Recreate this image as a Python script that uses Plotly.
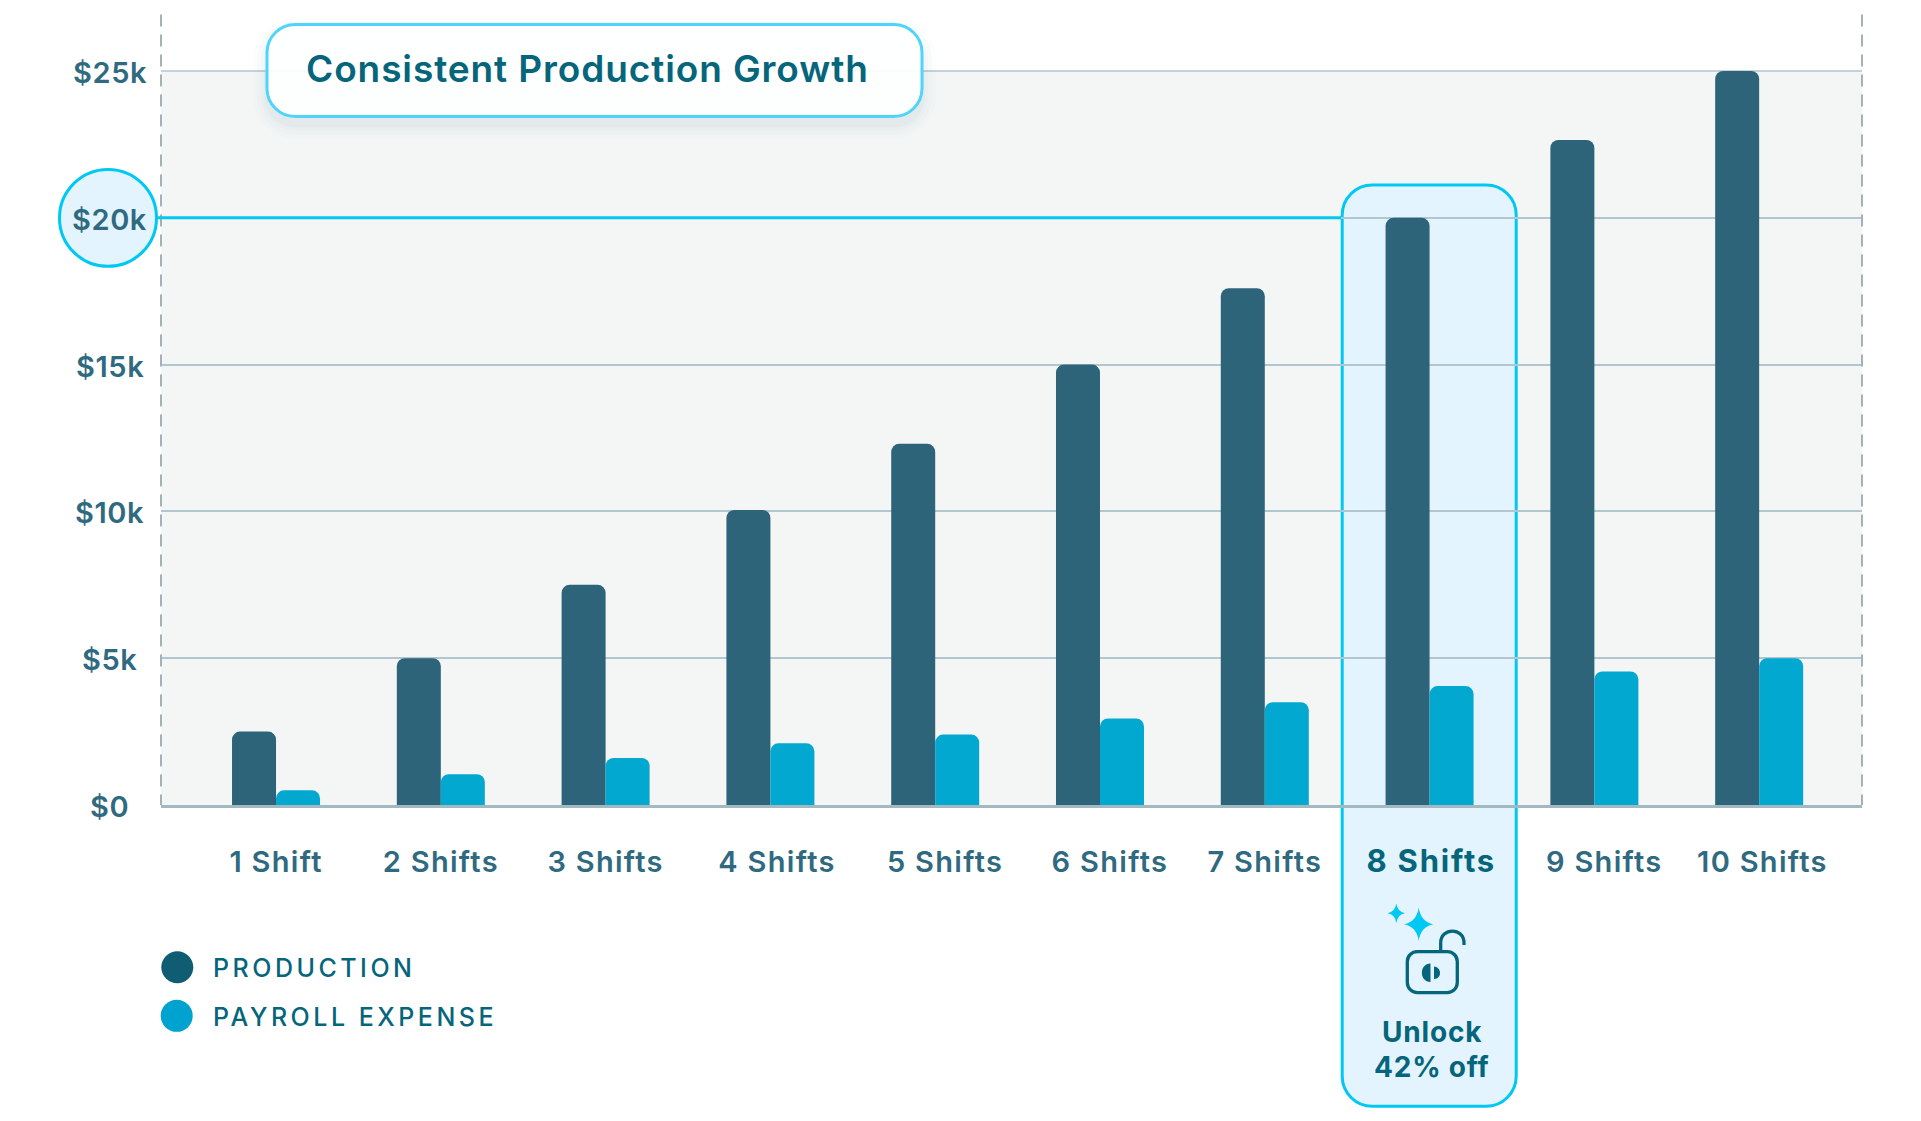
import plotly.graph_objects as go

# ---- data ----
x_labels = ["1 Shift", "2 Shifts", "3 Shifts", "4 Shifts", "5 Shifts",
            "6 Shifts", "7 Shifts", "8 Shifts", "9 Shifts", "10 Shifts"]
production = [2500, 5000, 7500, 10050, 12300, 15000, 17600, 20000, 22650, 25000]
payroll = [500, 1050, 1600, 2100, 2400, 2950, 3500, 4050, 4550, 5000]
y_ticks = [0, 5000, 10000, 15000, 20000, 25000]
y_labels = ["$0", "$5k", "$10k", "$15k", "$20k", "$25k"]
label_pos = [0, 1, 2, 3.04, 4.06, 5.06, 6, 7.01, 8.06, 9.02]
series_names = ["PRODUCTION", "PAYROLL EXPENSE"]
title_text = "Consistent Production Growth"
unlock_lines = ["Unlock", "42% off"]

# ---- style ----
W, H = 1921, 1121
L, R, T, B = 161, 1862, 70.5, 805
FONT = "Inter"
BAR_DARK = "#2e6479"
BAR_LIGHT = "#02a8d0"
LEG_DARK = "#0f5c73"
LEG_LIGHT = "#00a3cf"
TEAL = "#05657b"
TICK = "#2f6a80"
CYAN = "#00c8f5"
SOFT = "#e3f4fe"
GRID = "#b2c6cf"


def spaced(t, ls, extra=""):
    return f'<span style="letter-spacing:{ls}px;{extra}">{t}</span>'


def px(x):
    return (x - L) / (R - L)


def py(y):
    return (B - y) / (B - T)


def P(x, y):
    return f"{px(x):.5f},{py(y):.5f}"


def rrect(x0, y0, x1, y1, r):
    k = r * 0.45
    return ("M" + P(x0 + r, y0) + " L" + P(x1 - r, y0)
            + " C" + P(x1 - k, y0) + " " + P(x1, y0 + k) + " " + P(x1, y0 + r)
            + " L" + P(x1, y1 - r)
            + " C" + P(x1, y1 - k) + " " + P(x1 - k, y1) + " " + P(x1 - r, y1)
            + " L" + P(x0 + r, y1)
            + " C" + P(x0 + k, y1) + " " + P(x0, y1 - k) + " " + P(x0, y1 - r)
            + " L" + P(x0, y0 + r)
            + " C" + P(x0, y0 + k) + " " + P(x0 + k, y0) + " " + P(x0 + r, y0) + " Z")


def star(cx, cy, w, h):
    k = 0.14
    return ("M" + P(cx, cy - h) + " Q" + P(cx + w * k, cy - h * k) + " " + P(cx + w, cy)
            + " Q" + P(cx + w * k, cy + h * k) + " " + P(cx, cy + h)
            + " Q" + P(cx - w * k, cy + h * k) + " " + P(cx - w, cy)
            + " Q" + P(cx - w * k, cy - h * k) + " " + P(cx, cy - h) + " Z")


def path(d, fill=None, line=None, width=0, layer="above"):
    s = dict(type="path", xref="paper", yref="paper", path=d, layer=layer,
             line=dict(color=line or "rgba(0,0,0,0)", width=width))
    if fill:
        s["fillcolor"] = fill
    return s


def circle(cx, cy, r, fill, line=None, width=0, layer="above"):
    return dict(type="circle", xref="paper", yref="paper", layer=layer,
                x0=px(cx - r), x1=px(cx + r), y0=py(cy + r), y1=py(cy - r),
                fillcolor=fill, line=dict(color=line or "rgba(0,0,0,0)", width=width))


def vline(x, y0, y1, color, width, dash="solid"):
    return dict(type="line", xref="paper", yref="paper", layer="above",
                x0=px(x), x1=px(x), y0=py(y0), y1=py(y1),
                line=dict(color=color, width=width, dash=dash))


fig = go.Figure()
idx = list(range(len(x_labels)))
fig.add_bar(x=idx, y=production, marker_color=BAR_DARK, marker_line_width=0, name="Production")
fig.add_bar(x=idx, y=payroll, marker_color=BAR_LIGHT, marker_line_width=0, name="Payroll Expense")

ticktext = [spaced(t, 1.8, f"fill:{TEAL};font-size:31px;font-weight:700") if t == "8 Shifts" else spaced(t, 1.3)
            for t in x_labels]

shapes = [
    # highlighted column (below grid lines)
    path(rrect(1342.2, 184.5, 1516.2, 1106.5, 30), fill=SOFT, line=CYAN, width=3, layer="below"),
    # top grid line, which the axis drops at the range end
    dict(type="line", xref="paper", yref="paper", layer="below", x0=0, x1=1, y0=1, y1=1,
         line=dict(color=GRID, width=1.5)),
    # dashed side rails
    vline(L, 14, B, "#a3b1b8", 2, "12px,8px"),
    vline(R, 14, B, "#a3b1b8", 2, "12px,8px"),
    # 20k threshold
    dict(type="line", xref="paper", yref="y", layer="above", x0=px(157), x1=px(1341),
         y0=20000, y1=20000, line=dict(color=CYAN, width=3)),
    circle(108, 217.5, 48.5, SOFT, CYAN, 3),
]
# soft shadow of the title box
for grow, alpha in [(14, 0.012), (10, 0.014), (6, 0.016), (3, 0.018)]:
    shapes.append(path(rrect(267 - grow, 24 + 8 - grow, 922 + grow, 116 + 8 + grow, 28 + grow),
                       fill=f"rgba(20,60,80,{alpha})"))
shapes += [
    path(rrect(267, 24, 922, 116, 28), fill="rgba(255,255,255,0.93)", line="#4fd5fb", width=3),
    # sparkles
    path(star(1418.7, 924.3, 14.7, 16.7), fill=CYAN),
    path(star(1396.3, 913.3, 8.7, 9.7), fill=CYAN),
    # lock
    path(rrect(1407.3, 951.7, 1457.3, 992.7, 10), line=TEAL, width=3.3),
    path("M" + P(1440.7, 951.7) + " L" + P(1440.7, 943)
         + " C" + P(1440.7, 927.3) + " " + P(1464, 927.3) + " " + P(1464, 943)
         + " L" + P(1464, 945), line=TEAL, width=3.3),
    path("M" + P(1430.5, 963.5) + " C" + P(1419, 963.5) + " " + P(1419, 982) + " " + P(1430.5, 982) + " Z", fill=TEAL),
    path("M" + P(1434, 966.5) + " C" + P(1442, 967) + " " + P(1442, 979) + " " + P(1434, 979) + " Z", fill=TEAL),
    # legend dots
    circle(177.3, 967.3, 16, LEG_DARK),
    circle(176.7, 1016, 16, LEG_LIGHT),
]

annotations = []
for v, t in zip(y_ticks, y_labels):
    annotations.append(dict(xref="paper", yref="y", x=px(109.5), y=v, yshift=-1.5, text=spaced(t, 0.6),
                            showarrow=False, xanchor="center", yanchor="middle",
                            font=dict(family=FONT, size=29, color=TICK, weight=600)))
annotations.append(dict(xref="paper", yref="paper", x=px(587.5), y=py(68), text=spaced(title_text, 0.9),
                        showarrow=False, xanchor="center", yanchor="middle",
                        font=dict(family=FONT, size=37, color=TEAL, weight=600)))
for y, t in zip([968.5, 1017.5], series_names):
    annotations.append(dict(xref="paper", yref="paper", x=px(211), y=py(y), text=spaced(t, 3.5),
                            showarrow=False, xanchor="left", yanchor="middle",
                            font=dict(family=FONT, size=25, color=TEAL, weight=500)))
for y, t in zip([1032, 1067], unlock_lines):
    annotations.append(dict(xref="paper", yref="paper", x=px(1431.7), y=py(y), text=spaced(t, 0.8),
                            showarrow=False, xanchor="center", yanchor="middle",
                            font=dict(family=FONT, size=28, color=TEAL, weight=700)))

fig.update_layout(
    width=W, height=H,
    margin=dict(l=L, r=W - R, t=T, b=H - B, pad=0),
    paper_bgcolor="white", plot_bgcolor="#f4f6f6",
    barmode="group", bargap=0.466, bargroupgap=0, barcornerradius=8,
    showlegend=False,
    shapes=shapes, annotations=annotations,
    font=dict(family=FONT),
    xaxis=dict(range=[-0.698, 9.624], tickmode="array", tickvals=label_pos, ticktext=ticktext,
               ticks="", showgrid=False, zeroline=False, showline=True, linecolor="#a3b9c2", linewidth=3,
               ticklabelstandoff=29,
               tickfont=dict(family=FONT, size=29, color=TICK, weight=600)),
    yaxis=dict(range=[0, 25000], tickmode="array", tickvals=y_ticks, showticklabels=False,
               ticks="", showgrid=True, gridcolor=GRID, gridwidth=1.5, zeroline=False, showline=False),
)

fig.write_html("out.html", config=dict(displayModeBar=False),
               post_script="document.body.style.margin='0';document.body.style.overflow='hidden';")
